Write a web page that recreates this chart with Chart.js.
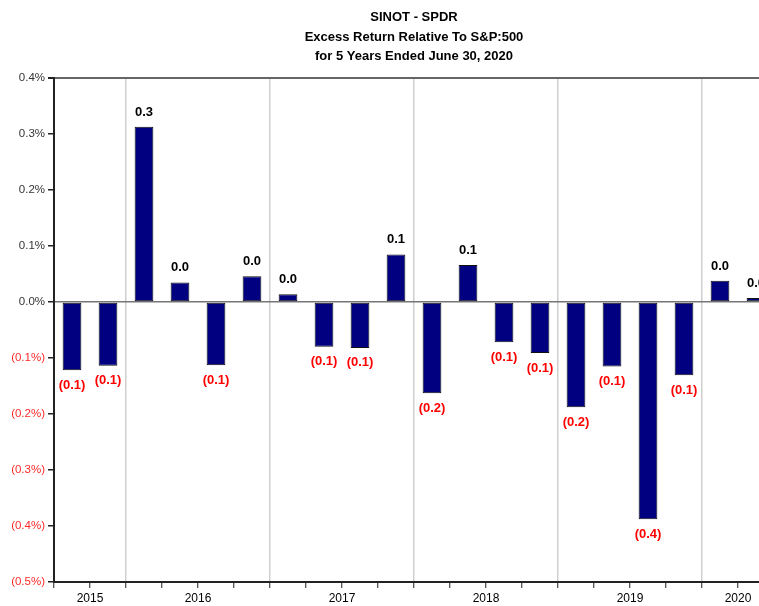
<!DOCTYPE html>
<html>
<head>
<meta charset="utf-8">
<script src="https://cdn.jsdelivr.net/npm/chart.js@4.4.1/dist/chart.umd.min.js"></script>
<style>
  html, body { margin: 0; padding: 0; background: #fff; overflow: hidden; }
  #wrap { width: 800px; height: 606px; }
</style>
</head>
<body>
<div id="wrap"><canvas id="c" width="800" height="606"></canvas></div>
<script>
// ---- data ----
const quarters = ['Q3 2015','Q4 2015',
  'Q1 2016','Q2 2016','Q3 2016','Q4 2016',
  'Q1 2017','Q2 2017','Q3 2017','Q4 2017',
  'Q1 2018','Q2 2018','Q3 2018','Q4 2018',
  'Q1 2019','Q2 2019','Q3 2019','Q4 2019',
  'Q1 2020','Q2 2020'];
const excessReturn = [-0.122, -0.114,
  0.313, 0.035, -0.113, 0.046,
  0.014, -0.080, -0.082, 0.085,
  -0.163, 0.066, -0.072, -0.091,
  -0.188, -0.115, -0.388, -0.131,
  0.038, 0.007];
const titleLines = ['SINOT - SPDR', 'Excess Return Relative To S&P:500', 'for 5 Years Ended June 30, 2020'];
const yAxisMin = -0.5;
const yAxisMax = 0.4;
const yAxisStep = 0.1;

// ---- derived helpers ----
const yearOf = q => q.split(' ')[1];
const yearLabelAt = {};
(function () {
  let start = 0;
  for (let i = 1; i <= quarters.length; i++) {
    if (i === quarters.length || yearOf(quarters[i]) !== yearOf(quarters[start])) {
      const count = i - start;
      yearLabelAt[start + Math.floor(count / 2)] = yearOf(quarters[start]);
      start = i;
    }
  }
})();
const isYearBoundary = i => i > 0 && i < quarters.length && yearOf(quarters[i]) !== yearOf(quarters[i - 1]);

const FONT = '"Liberation Sans", Arial, Helvetica, sans-serif';
const RED = '#ff0000';

const valueLabels = {
  id: 'valueLabels',
  afterDatasetsDraw(chart) {
    const ctx = chart.ctx;
    const meta = chart.getDatasetMeta(0);
    ctx.save();
    ctx.font = 'bold 13px ' + FONT;
    ctx.textAlign = 'center';
    ctx.textBaseline = 'middle';
    meta.data.forEach((bar, i) => {
      const v = excessReturn[i];
      if (v < 0) {
        ctx.fillStyle = RED;
        ctx.fillText('(' + Math.abs(v).toFixed(1) + ')', bar.x, bar.y + 15);
      } else {
        ctx.fillStyle = '#000';
        ctx.fillText(v.toFixed(1), bar.x, bar.y - 14.5);
      }
    });
    ctx.restore();
  }
};

new Chart(document.getElementById('c'), {
  type: 'bar',
  data: {
    labels: quarters,
    datasets: [{
      data: excessReturn,
      backgroundColor: '#000080',
      borderColor: '#111',
      borderWidth: 1,
      borderSkipped: false,
      barPercentage: 0.52,
      categoryPercentage: 1.0
    }]
  },
  options: {
    responsive: false,
    animation: false,
    layout: { padding: { left: 0, right: 26, top: 0, bottom: 0 } },
    plugins: {
      legend: { display: false },
      tooltip: { enabled: false },
      title: {
        display: true,
        text: titleLines,
        fullSize: false,
        color: '#000',
        font: { family: FONT, size: 13, weight: 'bold', lineHeight: 1.5 },
        padding: { top: 8, bottom: 11.5 }
      }
    },
    scales: {
      x: {
        type: 'category',
        offset: true,
        afterFit: s => { s.height = 24; },
        border: { display: true, color: '#222', width: 2 },
        grid: {
          offset: true,
          drawOnChartArea: true,
          drawTicks: true,
          tickLength: 6,
          tickColor: '#222',
          tickWidth: 1,
          color: ctx => isYearBoundary(ctx.index) ? '#cfcfcf' : 'rgba(0,0,0,0)',
          lineWidth: 1.5
        },
        ticks: {
          autoSkip: false,
          maxRotation: 0,
          minRotation: 0,
          labelOffset: -18,
          padding: 3,
          color: '#000',
          font: { family: FONT, size: 12 },
          callback: (val, idx) => yearLabelAt[idx] || ''
        }
      },
      y: {
        min: yAxisMin,
        max: yAxisMax,
        afterFit: s => { s.width = 54; },
        border: { display: true, color: '#222', width: 2 },
        grid: {
          drawTicks: true,
          tickLength: 6,
          tickColor: '#222',
          color: ctx => {
            const v = ctx.tick ? ctx.tick.value : NaN;
            if (Math.abs(v) < 1e-9) return '#777';
            if (Math.abs(v - yAxisMax) < 1e-9) return '#666';
            return 'rgba(0,0,0,0)';
          },
          lineWidth: ctx => {
            const v = ctx.tick ? ctx.tick.value : NaN;
            if (Math.abs(v - yAxisMax) < 1e-9) return 2;
            return 1.5;
          }
        },
        ticks: {
          stepSize: yAxisStep,
          padding: 3,
          font: { family: FONT, size: 11.5 },
          color: ctx => (ctx.tick && ctx.tick.value < -1e-9) ? '#ff2a2a' : '#333',
          callback: v => {
            const r = Math.round(v * 10) / 10;
            return r < 0 ? '(' + Math.abs(r).toFixed(1) + '%)' : r.toFixed(1) + '%';
          }
        }
      }
    }
  },
  plugins: [valueLabels]
});
</script>
</body>
</html>
